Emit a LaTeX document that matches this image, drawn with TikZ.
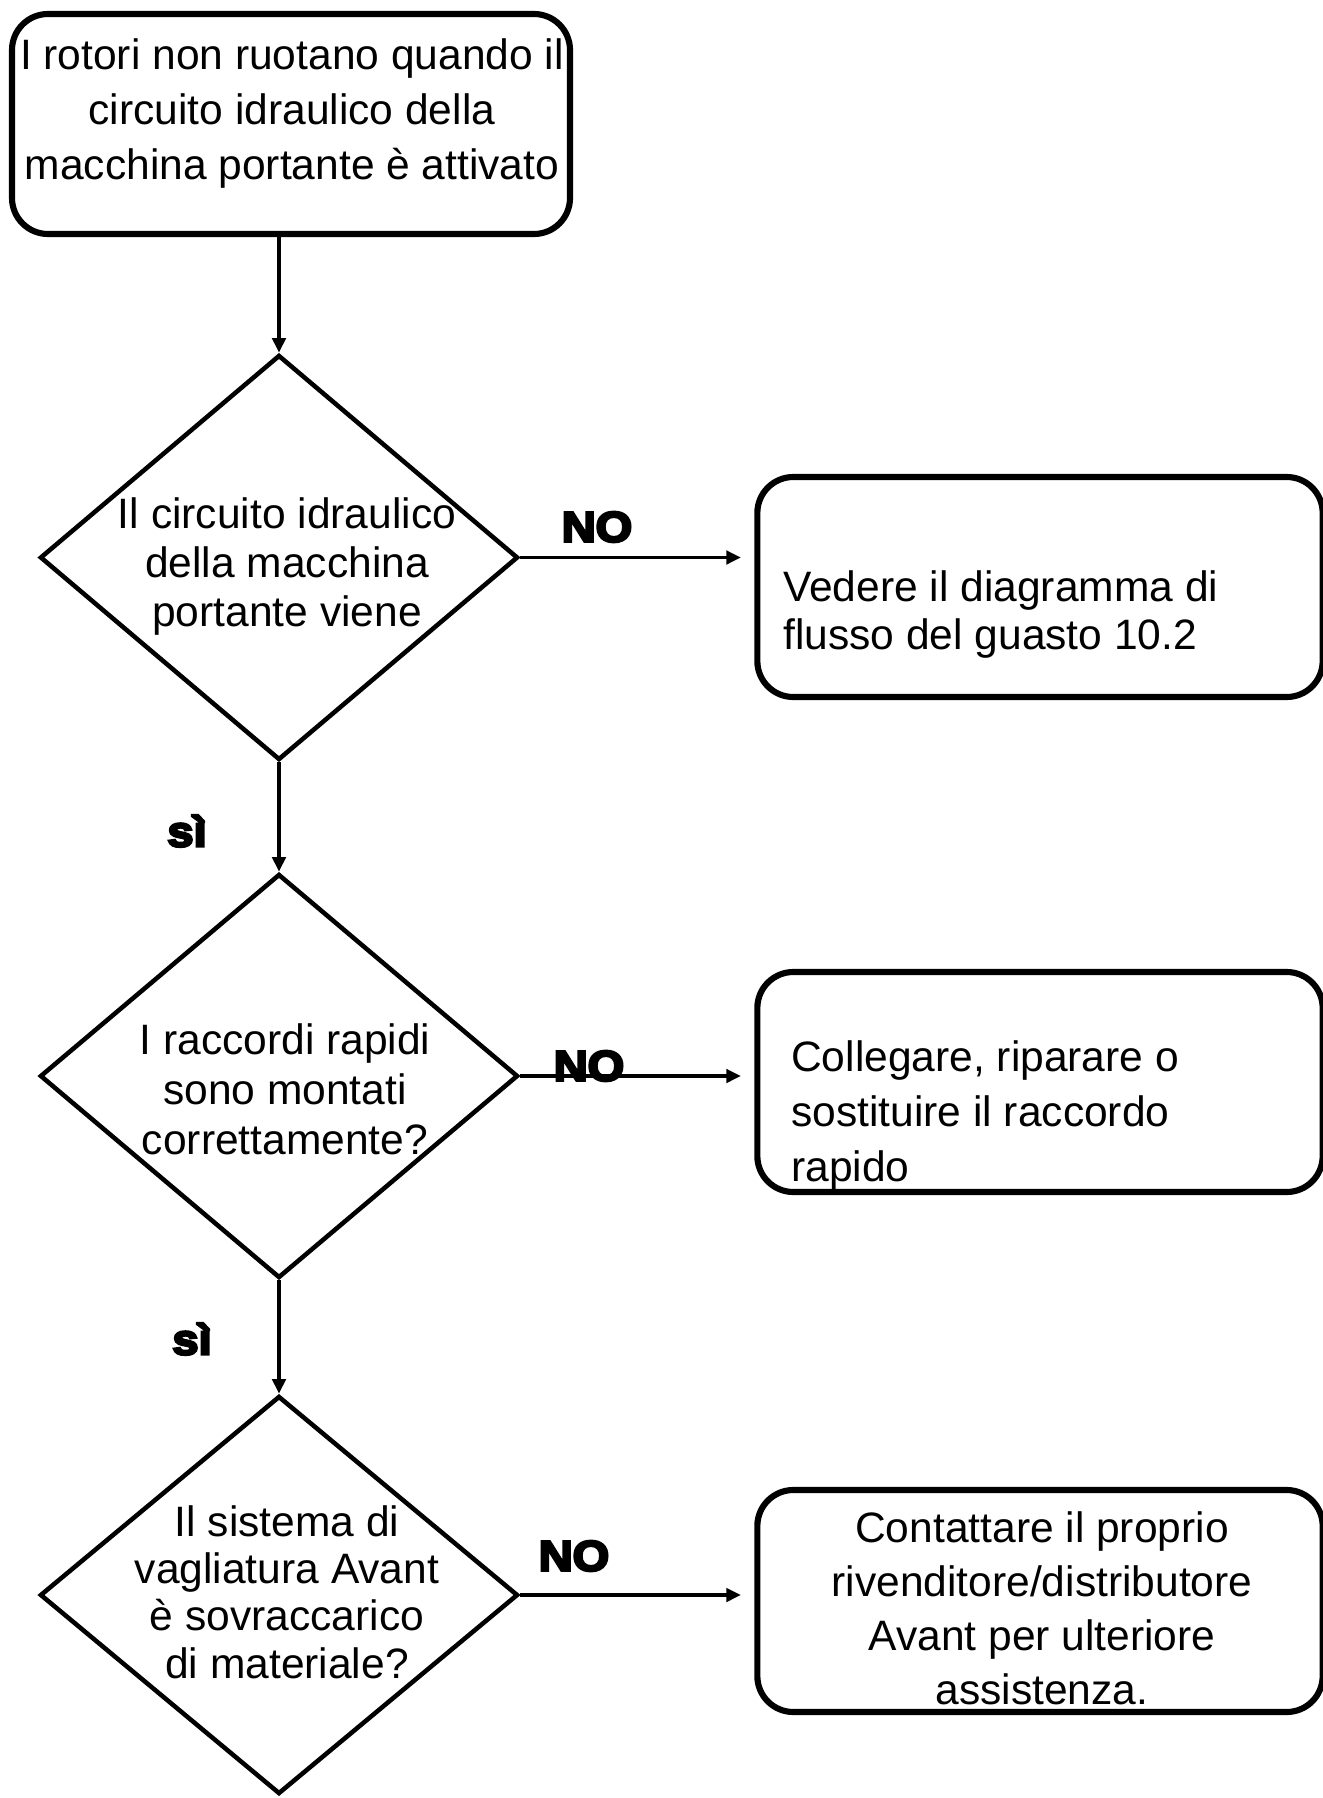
\documentclass[tikz,border=0pt]{standalone}
\usepackage{fontspec}
\setmainfont{Liberation Sans}
\newfontfamily\heavy{Liberation Sans Bold}[FakeBold=6,FakeStretch=1.1]
\usetikzlibrary{shapes.geometric,arrows.meta}
\begin{document}
\begin{tikzpicture}[x=0.75pt,y=-0.75pt,
  box/.style={draw,line width=4.6pt,rounded corners=27pt,inner sep=0pt,
    minimum width=424pt,minimum height=165pt},
  dia/.style={draw,diamond,line width=3.4pt,inner sep=0pt,minimum width=358.5pt},
  txt/.style={inner sep=0pt,align=center},
  lab/.style={inner sep=0pt,font=\heavy\fontsize{32}{36}\selectfont},
  arr/.style={line width=2.9pt,-{Triangle[length=11pt,width=10pt]}}]
\useasboundingbox (0,0) rectangle (1323,1798);

% start box
\node[box,minimum width=418.5pt] (start) at (291,124) {};
\node[txt,font=\fontsize{31.9}{41.25}\selectfont] (starttext) at (292,114)
  {I rotori non ruotano quando il\\circuito idraulico della\\macchina portante è attivato};

% diamonds
\node[dia,minimum height=303.75pt] (d1) at (279,557.5) {};
\node[txt,font=\fontsize{31.9}{36.75}\selectfont] (d1text) at (287,566)
  {Il circuito idraulico\\della macchina\\portante viene};

\node[dia,minimum height=303pt] (d2) at (279,1076) {};
\node[txt,font=\fontsize{31.9}{37.5}\selectfont] (d2text) at (285,1089)
  {I raccordi rapidi\\sono montati\\correttamente?};

\node[dia,minimum height=298.5pt] (d3) at (279,1595) {};
\node[txt,font=\fontsize{31.9}{35.6}\selectfont] (d3text) at (287,1592)
  {Il sistema di\\vagliatura Avant\\è sovraccarico\\di materiale?};

% right boxes
\node[box] (b2) at (1040,587) {};
\node[inner sep=0pt,align=left,anchor=west,font=\fontsize{31.9}{36}\selectfont] (b2text) at (783,614)
  {Vedere il diagramma di\\flusso del guasto 10.2};

\node[box] (b3) at (1040,1082) {};
\node[inner sep=0pt,align=left,anchor=west,font=\fontsize{31.9}{41.25}\selectfont] (b3text) at (791,1115)
  {Collegare, riparare o\\sostituire il raccordo\\rapido};

\node[box,minimum height=166.5pt] (b4) at (1040,1601) {};
\node[txt,font=\fontsize{31.9}{40.5}\selectfont] (b4text) at (1042,1608)
  {Contattare il proprio\\rivenditore/distributore\\Avant per ulteriore\\assistenza.};

% connectors
\draw[arr] (start.south -| d1.north) -- (d1.north);
\draw[arr] (d1.south) -- (d2.north);
\draw[arr] (d2.south) -- (d3.north);
\draw[arr,shorten >=10pt] (d1.east) -- (b2.west |- d1.east);
\draw[arr,shorten >=10pt] (d2.east) -- (b3.west |- d2.east);
\draw[arr,shorten >=10pt] (d3.east) -- (b4.west |- d3.east);

% labels
\node[lab] (no1) at (597,527) {NO};
\node[lab] (no2) at (589,1066) {NO};
\node[lab] (no3) at (574,1556) {NO};
\node[lab] (si1) at (187,831) {sì};
\node[lab] (si2) at (192,1339) {sì};
\end{tikzpicture}
\end{document}
